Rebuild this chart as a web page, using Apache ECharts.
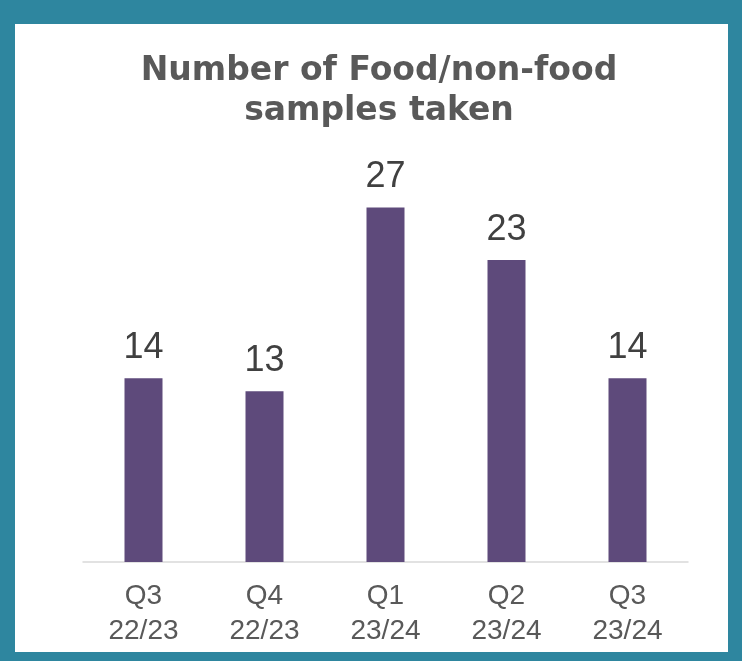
<!DOCTYPE html>
<html>
<head>
<meta charset="utf-8">
<script src="https://cdn.jsdelivr.net/npm/echarts@6/dist/echarts.min.js"></script>
<style>
    html, body { margin: 0; padding: 0; background: #2E869F; }
    #chart { position: absolute; left: 15px; top: 24px; width: 713px; height: 628px; background: #ffffff; }
</style>
</head>
<body>
<div id="chart"></div>
<script>
// 类别和数值
const quarters = ['Q3\n22/23', 'Q4\n22/23', 'Q1\n23/24', 'Q2\n23/24', 'Q3\n23/24'];
const sampleCounts = [14, 13, 27, 23, 14];

const myChart = echarts.init(document.getElementById('chart'));

const option = {
    animation: false,
    title: {
        text: 'Number of Food/non-food\nsamples taken',
        left: 359,
        top: 22,
        textAlign: 'center',
        textStyle: {
            fontFamily: 'DejaVu Sans',
            fontWeight: 'bold',
            fontSize: 33,
            lineHeight: 40,
            color: '#595959'
        }
    },
    grid: {
        left: 68,
        right: 40,
        top: 144,
        bottom: 90
    },
    xAxis: {
        type: 'category',
        data: quarters,
        axisLine: { lineStyle: { color: '#D9D9D9', width: 1.5 } },
        axisTick: { show: false },
        axisLabel: {
            margin: 17,
            fontFamily: 'Liberation Sans',
            fontSize: 28,
            lineHeight: 35,
            color: '#595959'
        }
    },
    yAxis: {
        type: 'value',
        min: 0,
        max: 30,
        show: false,
        splitLine: { show: false }
    },
    series: [
        {
            type: 'bar',
            data: sampleCounts,
            barWidth: 38,
            itemStyle: { color: '#5E4A7B' },
            label: {
                show: true,
                position: 'top',
                distance: 12,
                fontFamily: 'Liberation Sans',
                fontSize: 36,
                color: '#404040'
            }
        }
    ]
};
myChart.setOption(option);
</script>
</body>
</html>
